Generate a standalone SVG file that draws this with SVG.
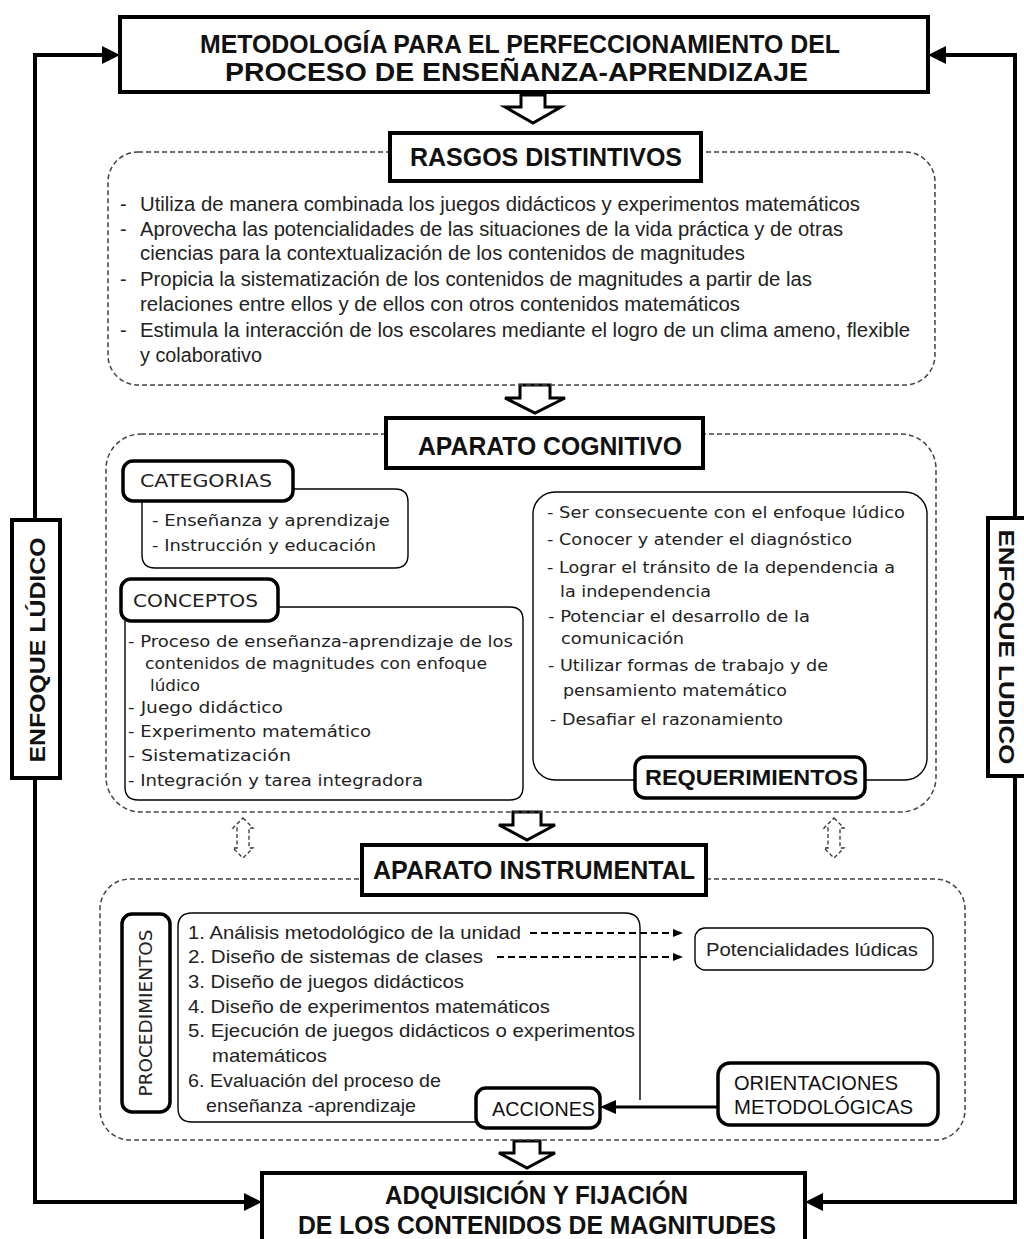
<svg xmlns="http://www.w3.org/2000/svg" width="1024" height="1239" viewBox="0 0 1024 1239">
  <style>
    .bg { fill: #ffffff; }
    .box { fill: #ffffff; stroke: #000; stroke-width: 4; }
    .tag { fill: #ffffff; stroke: #000; stroke-width: 3.5; }
    .thin { fill: none; stroke: #000; stroke-width: 1.4; }
    .thinw { fill: #ffffff; stroke: #000; stroke-width: 1.4; }
    .dash { fill: none; stroke: #444; stroke-width: 1.5; stroke-dasharray: 5 3; }
    .hollow { fill: #ffffff; stroke: #000; stroke-width: 3; stroke-linejoin: miter; }
    .dhollow { fill: none; stroke: #333; stroke-width: 1.3; stroke-dasharray: 4 2.5; }
    .wire { fill: none; stroke: #000; stroke-width: 4; }
    .head { fill: #000; }
    .h { font-family: "Liberation Sans", Arial, sans-serif; font-weight: bold; font-size: 25px; fill: #111; dominant-baseline: central; }
    .n { font-family: "Liberation Sans", Arial, sans-serif; font-weight: normal; font-size: 21px; fill: #111; dominant-baseline: central; }
    .t { font-family: "Liberation Sans", Arial, sans-serif; font-size: 20px; fill: #222; dominant-baseline: central; }
    .p { font-family: "Liberation Sans", Arial, sans-serif; font-size: 19px; fill: #222; dominant-baseline: central; }
    .c { font-family: "DejaVu Sans", Verdana, sans-serif; font-size: 16.5px; fill: #222; dominant-baseline: central; }
    .cb { font-family: "DejaVu Sans", Verdana, sans-serif; font-size: 17.5px; fill: #222; dominant-baseline: central; }
  </style>
  <defs>
    <marker id="dashHead" viewBox="0 0 10 10" refX="9" refY="5" markerWidth="5" markerHeight="5" orient="auto" markerUnits="strokeWidth">
      <path d="M0,1 L10,5 L0,9 z" fill="#000"/>
    </marker>
  </defs>

  <rect class="bg" x="0" y="0" width="1024" height="1239"/>

  <!-- feedback loop lines and the block arrows between stages -->
  <g id="connectors">
    <path class="wire" d="M35,520 V55 H104"/>
    <path class="head" d="M120,55 L102,46 L102,64 z"/>
    <path class="wire" d="M35,778 V1202 H246"/>
    <path class="head" d="M262,1202 L244,1193 L244,1211 z"/>
    <path class="wire" d="M1015,518 V55 H944"/>
    <path class="head" d="M928,55 L946,46 L946,64 z"/>
    <path class="wire" d="M1015,776 V1202 H821"/>
    <path class="head" d="M805,1202 L823,1193 L823,1211 z"/>

    <!-- hollow block arrows -->
    <path class="hollow" d="M521,95 H545 V107 H561 L533,123 L505,107 H521 z"/>
    <path class="hollow" d="M520,385 H550 V398 H565 L535,413 L505,398 H520 z"/>
    <path class="hollow" d="M513,812 H541 V825 H555 L527,840 L499,825 H513 z"/>
    <path class="hollow" d="M514,1141 H540 V1153 H555 L527,1168 L499,1153 H514 z"/>

    <!-- dashed two-way links between cognitive and instrumental parts -->
    <path class="dhollow" d="M243,818 L253,828 H249 V848 H253 L243,858 L233,848 H237 V828 H233 z"/>
    <path class="dhollow" d="M834,818 L844,828 H840 V848 H844 L834,858 L824,848 H828 V828 H824 z"/>

    <!-- procedures to potentialities -->
    <line x1="530" y1="933" x2="682" y2="933" stroke="#000" stroke-width="2" stroke-dasharray="7 4" marker-end="url(#dashHead)"/>
    <line x1="497" y1="957" x2="682" y2="957" stroke="#000" stroke-width="2" stroke-dasharray="7 4" marker-end="url(#dashHead)"/>

    <!-- orientations to actions -->
    <line x1="718" y1="1107" x2="614" y2="1107" stroke="#000" stroke-width="3"/>
    <path class="head" d="M600,1107 L616,1100 L616,1114 z"/>
  </g>

  <g id="enfoque-left">
    <rect class="box" x="12" y="520" width="48" height="258" stroke-width="3.5"/>
    <text class="h" style="font-size:22px" x="0" y="0" text-anchor="middle" transform="translate(37,650) rotate(-90)" textLength="225" lengthAdjust="spacingAndGlyphs">ENFOQUE LÚDICO</text>
  </g>
  <g id="enfoque-right">
    <rect class="box" x="988" y="518" width="50" height="258" stroke-width="3.5"/>
    <text class="h" style="font-size:22px" x="0" y="0" text-anchor="middle" transform="translate(1006,647) rotate(90)" textLength="235" lengthAdjust="spacingAndGlyphs">ENFOQUE LUDICO</text>
  </g>

  <g id="metodologia">
    <rect class="box" x="120" y="17" width="808" height="75"/>
    <text class="h" style="font-size:26px" x="200" y="44" textLength="640" lengthAdjust="spacingAndGlyphs">METODOLOGÍA PARA EL PERFECCIONAMIENTO DEL</text>
    <text class="h" style="font-size:26px" x="225" y="72" textLength="583" lengthAdjust="spacingAndGlyphs">PROCESO DE ENSEÑANZA-APRENDIZAJE</text>
  </g>

  <g id="rasgos">
    <rect class="dash" x="108" y="152" width="827" height="233" rx="30"/>
    <rect class="box" x="390" y="133" width="311" height="48"/>
    <text class="h" x="410" y="157" textLength="272" lengthAdjust="spacingAndGlyphs">RASGOS DISTINTIVOS</text>
    <text class="t" x="120" y="204">-</text>
    <text class="t" x="140" y="204" textLength="720" lengthAdjust="spacingAndGlyphs">Utiliza de manera combinada los juegos didácticos y experimentos matemáticos</text>
    <text class="t" x="120" y="229">-</text>
    <text class="t" x="140" y="229" textLength="703" lengthAdjust="spacingAndGlyphs">Aprovecha las potencialidades de las situaciones de la vida práctica y de otras</text>
    <text class="t" x="140" y="253" textLength="605" lengthAdjust="spacingAndGlyphs">ciencias para la contextualización de los contenidos de magnitudes</text>
    <text class="t" x="120" y="279">-</text>
    <text class="t" x="140" y="279" textLength="672" lengthAdjust="spacingAndGlyphs">Propicia la sistematización de los contenidos de magnitudes a partir de las</text>
    <text class="t" x="140" y="304" textLength="600" lengthAdjust="spacingAndGlyphs">relaciones entre ellos y de ellos con otros contenidos matemáticos</text>
    <text class="t" x="120" y="330">-</text>
    <text class="t" x="140" y="330" textLength="770" lengthAdjust="spacingAndGlyphs">Estimula la interacción de los escolares mediante el logro de un clima ameno, flexible</text>
    <text class="t" x="140" y="355" textLength="122" lengthAdjust="spacingAndGlyphs">y colaborativo</text>
  </g>

  <g id="aparato-cognitivo">
    <rect class="dash" x="106" y="434" width="830" height="378" rx="35"/>
    <rect class="box" x="386" y="418" width="317" height="50"/>
    <text class="h" x="418" y="446" textLength="264" lengthAdjust="spacingAndGlyphs">APARATO COGNITIVO</text>
  </g>

  <g id="categorias">
    <path class="thin" d="M293,489 H395 Q408,489 408,502 V555 Q408,568 395,568 H155 Q142,568 142,555 V501"/>
    <rect class="tag" x="123" y="461" width="170" height="40" rx="10"/>
    <text class="cb" x="140" y="481" textLength="132" lengthAdjust="spacingAndGlyphs">CATEGORIAS</text>
    <text class="c" x="152" y="520" textLength="238" lengthAdjust="spacingAndGlyphs">- Enseñanza y aprendizaje</text>
    <text class="c" x="152" y="545" textLength="224" lengthAdjust="spacingAndGlyphs">- Instrucción y educación</text>
  </g>

  <g id="conceptos">
    <path class="thin" d="M278,607 H510 Q523,607 523,620 V787 Q523,800 510,800 H138 Q125,800 125,787 V621"/>
    <rect class="tag" x="121" y="579" width="157" height="42" rx="10"/>
    <text class="cb" x="133" y="601" textLength="125" lengthAdjust="spacingAndGlyphs">CONCEPTOS</text>
    <text class="c" x="128" y="641" textLength="385" lengthAdjust="spacingAndGlyphs">- Proceso de enseñanza-aprendizaje de los</text>
    <text class="c" x="145" y="663" textLength="342" lengthAdjust="spacingAndGlyphs">contenidos de magnitudes con enfoque</text>
    <text class="c" x="150" y="685" textLength="50" lengthAdjust="spacingAndGlyphs">lúdico</text>
    <text class="c" x="128" y="707" textLength="155" lengthAdjust="spacingAndGlyphs">- Juego didáctico</text>
    <text class="c" x="128" y="731" textLength="243" lengthAdjust="spacingAndGlyphs">- Experimento matemático</text>
    <text class="c" x="128" y="755" textLength="163" lengthAdjust="spacingAndGlyphs">- Sistematización</text>
    <text class="c" x="128" y="780" textLength="295" lengthAdjust="spacingAndGlyphs">- Integración y tarea integradora</text>
  </g>

  <g id="requerimientos">
    <rect class="thin" x="533" y="492" width="394" height="288" rx="22"/>
    <text class="c" x="547" y="512" textLength="358" lengthAdjust="spacingAndGlyphs">- Ser consecuente con el enfoque lúdico</text>
    <text class="c" x="547" y="539" textLength="305" lengthAdjust="spacingAndGlyphs">- Conocer y atender el diagnóstico</text>
    <text class="c" x="547" y="567" textLength="348" lengthAdjust="spacingAndGlyphs">- Lograr el tránsito de la dependencia a</text>
    <text class="c" x="560" y="591" textLength="151" lengthAdjust="spacingAndGlyphs">la independencia</text>
    <text class="c" x="548" y="616" textLength="262" lengthAdjust="spacingAndGlyphs">- Potenciar el desarrollo de la</text>
    <text class="c" x="561" y="638" textLength="123" lengthAdjust="spacingAndGlyphs">comunicación</text>
    <text class="c" x="548" y="665" textLength="280" lengthAdjust="spacingAndGlyphs">- Utilizar formas de trabajo y de</text>
    <text class="c" x="563" y="690" textLength="224" lengthAdjust="spacingAndGlyphs">pensamiento matemático</text>
    <text class="c" x="550" y="719" textLength="233" lengthAdjust="spacingAndGlyphs">- Desafiar el razonamiento</text>
    <rect class="tag" x="635" y="757" width="230" height="41" rx="10"/>
    <text class="h" style="font-size:22px" x="645" y="777" textLength="213" lengthAdjust="spacingAndGlyphs">REQUERIMIENTOS</text>
  </g>

  <g id="aparato-instrumental">
    <rect class="dash" x="100" y="879" width="865" height="261" rx="30"/>
    <rect class="box" x="362" y="845" width="344" height="50"/>
    <text class="h" x="373" y="870" textLength="322" lengthAdjust="spacingAndGlyphs">APARATO INSTRUMENTAL</text>
  </g>

  <g id="procedimientos">
    <path class="thin" d="M478,1122 H192 Q178,1122 178,1108 V927 Q178,913 192,913 H625 Q640,913 640,928 V1100"/>
    <rect class="tag" x="122" y="914" width="48" height="198" rx="10"/>
    <text class="cb" x="0" y="0" text-anchor="middle" transform="translate(146,1013) rotate(-90)" textLength="167" lengthAdjust="spacingAndGlyphs">PROCEDIMIENTOS</text>
    <text class="p" x="188" y="932" textLength="333" lengthAdjust="spacingAndGlyphs">1. Análisis metodológico de la unidad</text>
    <text class="p" x="188" y="956" textLength="295" lengthAdjust="spacingAndGlyphs">2. Diseño de sistemas de clases</text>
    <text class="p" x="188" y="981" textLength="276" lengthAdjust="spacingAndGlyphs">3. Diseño de juegos didácticos</text>
    <text class="p" x="188" y="1006" textLength="362" lengthAdjust="spacingAndGlyphs">4. Diseño de experimentos matemáticos</text>
    <text class="p" x="188" y="1030" textLength="447" lengthAdjust="spacingAndGlyphs">5. Ejecución de juegos didácticos o experimentos</text>
    <text class="p" x="212" y="1055" textLength="115" lengthAdjust="spacingAndGlyphs">matemáticos</text>
    <text class="p" x="188" y="1080" textLength="253" lengthAdjust="spacingAndGlyphs">6. Evaluación del proceso de</text>
    <text class="p" x="206" y="1105" textLength="210" lengthAdjust="spacingAndGlyphs">enseñanza -aprendizaje</text>
  </g>

  <g id="potencialidades">
    <rect class="thinw" x="695" y="928" width="238" height="42" rx="10"/>
    <text class="p" x="706" y="949" textLength="212" lengthAdjust="spacingAndGlyphs">Potencialidades lúdicas</text>
  </g>

  <g id="acciones">
    <rect class="tag" x="476" y="1088" width="124" height="40" rx="10"/>
    <text class="n" x="492" y="1108" textLength="103" lengthAdjust="spacingAndGlyphs">ACCIONES</text>
  </g>

  <g id="orientaciones">
    <rect class="tag" x="718" y="1063" width="220" height="62" rx="12"/>
    <text class="n" x="734" y="1082" textLength="164" lengthAdjust="spacingAndGlyphs">ORIENTACIONES</text>
    <text class="n" x="734" y="1106" textLength="179" lengthAdjust="spacingAndGlyphs">METODOLÓGICAS</text>
  </g>

  <g id="adquisicion">
    <rect class="box" x="262" y="1173" width="543" height="80"/>
    <text class="h" x="385" y="1195" textLength="303" lengthAdjust="spacingAndGlyphs">ADQUISICIÓN Y FIJACIÓN</text>
    <text class="h" x="298" y="1225" textLength="478" lengthAdjust="spacingAndGlyphs">DE LOS CONTENIDOS DE MAGNITUDES</text>
  </g>
</svg>
